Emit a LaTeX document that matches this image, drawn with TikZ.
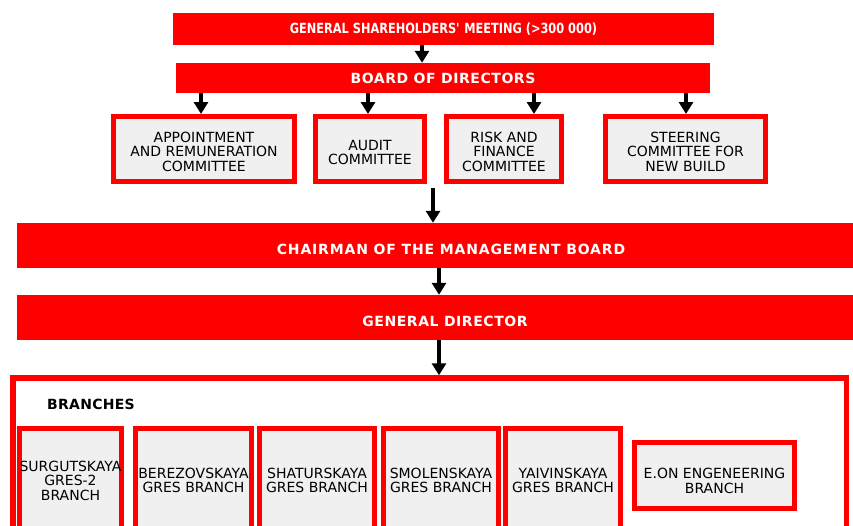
\documentclass[tikz,border=0pt]{standalone}
\usepackage{fontspec}
\setmainfont{DejaVu Sans}
\usetikzlibrary{arrows.meta}
\definecolor{boxgray}{RGB}{240,240,240}

\begin{document}
\begin{tikzpicture}[x=1pt,y=-1pt,
		head/.style={fill=red,text=white,inner sep=0pt,font=\bfseries\fontsize{14}{16}\selectfont\addfontfeature{LetterSpace=4}},
		cbox/.style={draw=red,line width=5pt,fill=boxgray,text=black,inner sep=0pt,align=center,font=\fontsize{14}{14.5}\selectfont},
		arr/.style={line width=4pt,-{Triangle[width=14pt,length=12pt]}}]
	\path[use as bounding box,clip] (0,0) rectangle (853,525);
	
	\node[head,minimum width=541pt,minimum height=32pt,font=\bfseries\fontsize{14}{16}\selectfont\addfontfeature{FakeStretch=0.81}] (gsm) at (443.5,29) {GENERAL SHAREHOLDERS\textquotesingle{} MEETING (>300 000)};
	\node[head,minimum width=534pt,minimum height=30pt] (board) at (443,78) {BOARD OF DIRECTORS};
	
	\node[cbox,minimum width=181pt,minimum height=65pt,text height=44pt,text depth=0pt] (app) at (204,149) {APPOINTMENT\\AND REMUNERATION\\COMMITTEE};
	\node[cbox,minimum width=109pt,minimum height=65pt,text height=31pt,text depth=0pt] (audit) at (370,149) {AUDIT\\COMMITTEE};
	\node[cbox,minimum width=115pt,minimum height=65pt,text height=44pt,text depth=0pt] (risk) at (504,149) {RISK AND\\FINANCE\\COMMITTEE};
	\node[cbox,minimum width=160pt,minimum height=65pt,text height=44pt,text depth=0pt] (steer) at (685.5,149) {STEERING\\COMMITTEE FOR\\NEW BUILD};
	
	\node[head,minimum width=868pt,minimum height=45pt,text height=18pt,text depth=0pt,font=\bfseries\fontsize{14}{16}\selectfont\addfontfeature{LetterSpace=6}] (chair) at (451,245.5) {CHAIRMAN OF THE MANAGEMENT BOARD};
	\node[head,minimum width=856pt,minimum height=45pt,text height=18pt,text depth=0pt] (gd) at (445,317.5) {GENERAL DIRECTOR};
	
	\node[draw=red,line width=5.5pt,minimum width=833.5pt,minimum height=200pt,inner sep=0pt] (br) at (429.5,478) {};
	\node[font=\bfseries\fontsize{14}{16}\selectfont\addfontfeature{LetterSpace=2}] (brlabel) at (91,404) {BRANCHES};
	
	\node[cbox,minimum width=102pt,minimum height=103.5pt] (surg) at (70.5,480.5) {SURGUTSKAYA\\GRES-2\\BRANCH};
	\node[cbox,minimum width=116pt,minimum height=103.5pt] (berez) at (193.5,480.5) {BEREZOVSKAYA\\GRES BRANCH};
	\node[cbox,minimum width=115pt,minimum height=103.5pt] (shat) at (317,480.5) {SHATURSKAYA\\GRES BRANCH};
	\node[cbox,minimum width=115pt,minimum height=103.5pt] (smol) at (441,480.5) {SMOLENSKAYA\\GRES BRANCH};
	\node[cbox,minimum width=115pt,minimum height=103.5pt] (yaiv) at (563,480.5) {YAIVINSKAYA\\GRES BRANCH};
	\node[cbox,minimum width=160pt,minimum height=66pt,text height=35.5pt,text depth=0pt] (eon) at (714.5,475.5) {E.ON ENGENEERING\\BRANCH};
	
	\coordinate (cm) at (433,188);
	
	\draw[arr] (gsm.south -| 422,0) -- (board.north -| 422,0);
	\draw[arr] (board.south -| 201,0) -- (app.north -| 201,0);
	\draw[arr] (board.south -| 368,0) -- (audit.north -| 368,0);
	\draw[arr] (board.south -| 534,0) -- (risk.north -| 534,0);
	\draw[arr] (board.south -| 686,0) -- (steer.north -| 686,0);
	\draw[arr] (cm) -- (chair.north -| cm);
	\draw[arr] (chair.south -| 439,0) -- (gd.north -| 439,0);
	\draw[arr] (gd.south -| 439,0) -- (br.north -| 439,0);
\end{tikzpicture}
\end{document}
